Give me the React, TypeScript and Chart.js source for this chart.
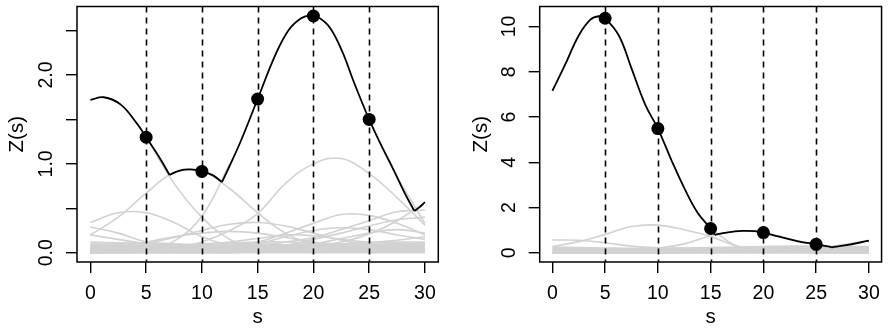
import { useEffect, useRef } from "react";
import { Chart, registerables } from "chart.js";

Chart.register(...registerables);

const FONT = "'Liberation Sans', Arial, Helvetica, sans-serif";
const FONT_SIZE = 19.5;
const TITLE_SIZE = 20.5;

// common s grid for the grey curves
const S_GRID = [0, 2.5, 5, 7.5, 10, 12.5, 15, 17.5, 20, 22.5, 25, 27.5, 30];
const X_TICKS = [0, 5, 10, 15, 20, 25, 30];
const V_LINES = [5, 10, 15, 20, 25];
const DOT_S = [5, 10, 15, 20, 25];

// ---------- left panel ----------
const L_Y_TICKS = [0, 0.5, 1, 1.5, 2, 2.5];
const L_Y_LABEL_VALUES = [0, 1, 2];
const L_Y_LABELS = ["0.0", "1.0", "2.0"];
const L_DOTS = [1.3, 0.915, 1.73, 2.665, 1.5];

const L_BLACK1_S = [0, 1.2, 2.7, 4.2, 5, 6.3, 7.1];
const L_BLACK1_Z = [1.72, 1.75, 1.67, 1.45, 1.3, 1.05, 0.875];
const L_BLACK2_S = [7.1, 8.0, 9.0, 10, 11, 11.8];
const L_BLACK2_Z = [0.875, 0.925, 0.937, 0.915, 0.87, 0.795];
const L_BLACK3_S = [11.8, 12.5, 13.5, 15, 16.6, 17.8, 18.9, 19.7, 20.5, 21.5, 22.6, 23.6, 25, 26.0, 27.2, 28.2, 29.05];
const L_BLACK3_Z = [0.795, 0.98, 1.26, 1.73, 2.23, 2.51, 2.64, 2.67, 2.645, 2.53, 2.26, 1.93, 1.5, 1.23, 0.93, 0.667, 0.47];
const L_BLACK4_S = [29.05, 29.5, 30];
const L_BLACK4_Z = [0.47, 0.51, 0.57];

// grey curves (null = hidden underneath the black envelope)
const gL1 = [null, null, 1.31, 0.78, 0.4, 0.15, 0.05, 0.02, 0.01, 0.01, 0.01, 0.01, 0.01];
const gL2 = [0.2, 0.4, 0.67, 0.9, 0.915, 0.72, 0.45, 0.22, 0.09, 0.04, 0.02, 0.01, 0.01];
const gL3 = [0.0, 0.01, 0.03, 0.13, 0.41, 1.0, null, null, null, null, null, 0.85, 0.33];
const gL4 = [0, 0, 0, 0, 0, 0, 0.01, 0.03, 0.06, 0.12, 0.21, 0.36, 0.57];
const gL5 = [0.0, 0.0, 0.01, 0.04, 0.12, 0.25, 0.44, 0.78, 1.0, 1.06, 0.89, 0.62, 0.31];
const gL6 = [0.34, 0.45, 0.45, 0.34, 0.18, 0.08, 0.04, 0.02, 0.01, 0.01, 0.01, 0.01, 0.01];
const gL7 = [0.01, 0.01, 0.02, 0.03, 0.05, 0.08, 0.12, 0.22, 0.33, 0.43, 0.42, 0.33, 0.2];
const gL8 = [0.02, 0.04, 0.1, 0.17, 0.25, 0.32, 0.34, 0.3, 0.22, 0.14, 0.08, 0.05, 0.03];
const gL9 = [0.01, 0.01, 0.01, 0.02, 0.03, 0.05, 0.08, 0.12, 0.17, 0.26, 0.36, 0.46, 0.48];
const gL10 = [0.02, 0.02, 0.02, 0.03, 0.04, 0.05, 0.06, 0.08, 0.15, 0.22, 0.3, 0.37, 0.4];
const gL11 = [0.2, 0.15, 0.1, 0.08, 0.07, 0.06, 0.05, 0.05, 0.05, 0.05, 0.05, 0.05, 0.05];
const gL12 = [0.29, 0.22, 0.12, 0.06, 0.04, 0.03, 0.03, 0.03, 0.03, 0.03, 0.03, 0.03, 0.03];
const gL13 = [0.03, 0.03, 0.04, 0.05, 0.06, 0.08, 0.1, 0.18, 0.25, 0.28, 0.26, 0.2, 0.15];
const gL14 = [0.02, 0.02, 0.03, 0.04, 0.05, 0.06, 0.07, 0.08, 0.1, 0.16, 0.22, 0.26, 0.22];
const gL15 = [0.05, 0.07, 0.12, 0.18, 0.22, 0.24, 0.22, 0.17, 0.12, 0.08, 0.06, 0.05, 0.05];
const gL16 = [0.04, 0.05, 0.06, 0.07, 0.09, 0.12, 0.16, 0.2, 0.19, 0.15, 0.12, 0.14, 0.18];
const bL1 = [0.12, 0.11, 0.1, 0.09, 0.1, 0.11, 0.12, 0.12, 0.11, 0.1, 0.11, 0.12, 0.12];
const bL2 = [0.1, 0.09, 0.08, 0.08, 0.09, 0.1, 0.1, 0.09, 0.09, 0.1, 0.11, 0.11, 0.1];
const bL3 = [0.08, 0.08, 0.07, 0.07, 0.07, 0.08, 0.09, 0.09, 0.08, 0.08, 0.09, 0.1, 0.09];
const bL4 = [0.07, 0.06, 0.06, 0.06, 0.06, 0.06, 0.07, 0.07, 0.07, 0.07, 0.08, 0.08, 0.08];
const bL5 = [0.05, 0.05, 0.05, 0.05, 0.05, 0.05, 0.05, 0.06, 0.06, 0.06, 0.06, 0.07, 0.07];
const bL6 = [0.04, 0.04, 0.04, 0.04, 0.04, 0.04, 0.04, 0.04, 0.05, 0.05, 0.05, 0.05, 0.05];
const bL7 = [0.03, 0.03, 0.03, 0.03, 0.03, 0.03, 0.03, 0.03, 0.03, 0.04, 0.04, 0.04, 0.04];
const bL8 = [0.02, 0.02, 0.02, 0.02, 0.02, 0.02, 0.02, 0.02, 0.02, 0.02, 0.03, 0.03, 0.03];
const bL9 = [0.01, 0.01, 0.01, 0.01, 0.01, 0.01, 0.01, 0.01, 0.01, 0.01, 0.01, 0.02, 0.02];
const bL10 = [0, 0, 0, 0, 0, 0, 0, 0, 0, 0, 0, 0, 0];
const bL11 = [0.09, 0.1, 0.11, 0.1, 0.08, 0.07, 0.08, 0.09, 0.1, 0.09, 0.08, 0.09, 0.11];
const bL12 = [0.06, 0.07, 0.08, 0.09, 0.08, 0.07, 0.06, 0.05, 0.06, 0.07, 0.08, 0.07, 0.06];

// ---------- right panel ----------
const R_Y_TICKS = [0, 2, 4, 6, 8, 10];
const R_Y_LABEL_VALUES = [0, 2, 4, 6, 8, 10];
const R_Y_LABELS = ["0", "2", "4", "6", "8", "10"];
const R_DOTS = [10.36, 5.49, 1.08, 0.9, 0.38];

const R_BLACK1_S = [0, 1.2, 2.5, 3.6, 4.4, 5, 6.3, 7.5, 8.8, 10, 11.3, 12.6, 13.8, 15, 15.4];
const R_BLACK1_Z = [7.16, 8.3, 9.6, 10.3, 10.45, 10.36, 9.6, 8.15, 6.55, 5.49, 4.08, 2.77, 1.75, 1.08, 0.8];
const R_BLACK2_S = [15.4, 16.5, 18.0, 19.2, 20, 21.4, 23.3, 25, 26.5];
const R_BLACK2_Z = [0.8, 0.9, 0.97, 0.96, 0.9, 0.73, 0.51, 0.38, 0.25];
const R_BLACK3_S = [26.5, 27.7, 30];
const R_BLACK3_Z = [0.25, 0.33, 0.54];

const gR1 = [null, null, null, null, null, null, 1.08, 0.3, 0.12, 0.05, 0.02, 0.01, 0.01];
const gR2 = [0.28, 0.5, 0.82, 1.17, 1.23, 1.02, 0.72, 0.3, 0.12, 0.05, 0.03, 0.02, 0.01];
const gR3 = [0.57, 0.56, 0.45, 0.3, 0.22, 0.18, 0.14, 0.12, 0.1, 0.1, 0.1, 0.1, 0.1];
const gR4 = [0.01, 0.03, 0.06, 0.12, 0.22, 0.4, 0.75, 0.96, 0.9, 0.62, 0.38, 0.2, 0.1];
const gR5 = [0, 0, 0, 0, 0, 0.01, 0.02, 0.04, 0.08, 0.12, 0.17, 0.36, 0.54];
const bR1 = [0.25, 0.24, 0.22, 0.2, 0.2, 0.22, 0.24, 0.26, 0.28, 0.3, 0.3, 0.29, 0.28];
const bR2 = [0.2, 0.2, 0.18, 0.17, 0.18, 0.2, 0.2, 0.22, 0.24, 0.25, 0.26, 0.25, 0.24];
const bR3 = [0.15, 0.15, 0.14, 0.14, 0.15, 0.15, 0.16, 0.17, 0.18, 0.19, 0.2, 0.2, 0.2];
const bR4 = [0.1, 0.1, 0.1, 0.1, 0.1, 0.11, 0.12, 0.12, 0.13, 0.14, 0.15, 0.15, 0.15];
const bR5 = [0.05, 0.05, 0.05, 0.05, 0.06, 0.06, 0.07, 0.07, 0.08, 0.08, 0.09, 0.1, 0.1];
const bR6 = [0.02, 0.02, 0.02, 0.02, 0.02, 0.03, 0.03, 0.03, 0.03, 0.04, 0.04, 0.04, 0.04];
const bR7 = [0, 0, 0, 0, 0, 0, 0, 0, 0, 0, 0, 0, 0];

type Panel = {
  left: number;
  width: number;
  yWidth: number;
  padRight: number;
  yMin: number;
  yMax: number;
  yTicks: number[];
  yLabelValues: number[];
  yLabels: string[];
  titlePadTop: number;
  grays: (number | null)[][];
  blacks: [number[], number[]][];
  dots: number[];
};

const PANELS: Panel[] = [
  {
    left: 0,
    width: 445,
    yWidth: 77,
    padRight: 1,
    yMin: -0.105,
    yMax: 2.772,
    yTicks: L_Y_TICKS,
    yLabelValues: L_Y_LABEL_VALUES,
    yLabels: L_Y_LABELS,
    titlePadTop: 5.5,
    grays: [gL1, gL2, gL3, gL4, gL5, gL6, gL7, gL8, gL9, gL10, gL11, gL12, gL13, gL14, gL15, gL16,
      bL1, bL2, bL3, bL4, bL5, bL6, bL7, bL8, bL9, bL10, bL11, bL12],
    blacks: [
      [L_BLACK1_S, L_BLACK1_Z],
      [L_BLACK2_S, L_BLACK2_Z],
      [L_BLACK3_S, L_BLACK3_Z],
      [L_BLACK4_S, L_BLACK4_Z],
    ],
    dots: L_DOTS,
  },
  {
    left: 445,
    width: 444,
    yWidth: 94.7,
    padRight: 7,
    yMin: -0.4,
    yMax: 10.88,
    yTicks: R_Y_TICKS,
    yLabelValues: R_Y_LABEL_VALUES,
    yLabels: R_Y_LABELS,
    titlePadTop: 24,
    grays: [gR1, gR2, gR3, gR4, gR5, bR1, bR2, bR3, bR4, bR5, bR6, bR7],
    blacks: [
      [R_BLACK1_S, R_BLACK1_Z],
      [R_BLACK2_S, R_BLACK2_Z],
      [R_BLACK3_S, R_BLACK3_Z],
    ],
    dots: R_DOTS,
  },
];

function buildChart(canvas: HTMLCanvasElement, p: Panel) {
  const datasets: any[] = [];
  datasets.push({
    data: DOT_S.map((s, i) => ({ x: s, y: p.dots[i] })),
    showLine: false,
    pointRadius: 6.5,
    pointBackgroundColor: "#000",
    pointBorderWidth: 0,
  });
  p.blacks.forEach(([xs, zs]) => {
    datasets.push({
      data: xs.map((s, i) => ({ x: s, y: zs[i] })),
      borderColor: "#000",
      borderWidth: 1.8,
      pointRadius: 0,
      tension: 0.4,
      fill: false,
    });
  });
  const lastBlackIndex = p.blacks.length;
  p.grays.forEach((zs) => {
    datasets.push({
      data: S_GRID.map((s, i) => ({ x: s, y: zs[i] })),
      borderColor: "#d2d2d2",
      borderWidth: 1.6,
      pointRadius: 0,
      tension: 0.4,
      spanGaps: false,
      fill: false,
    });
  });

  const decor = {
    id: "decor",
    beforeDatasetDraw(chart: any, args: any) {
      if (args.index !== lastBlackIndex) return;
      const { ctx, chartArea, scales } = chart;
      ctx.save();
      ctx.strokeStyle = "#000";
      ctx.lineWidth = 1.6;
      ctx.setLineDash([6, 5]);
      V_LINES.forEach((v) => {
        const x = Math.round(scales.x.getPixelForValue(v)) + 0.5;
        ctx.beginPath();
        ctx.moveTo(x, chartArea.top);
        ctx.lineTo(x, chartArea.bottom);
        ctx.stroke();
      });
      ctx.restore();
    },
    afterDraw(chart: any) {
      const { ctx, chartArea, scales } = chart;
      ctx.save();
      ctx.strokeStyle = "#000";
      ctx.lineWidth = 1.5;
      ctx.setLineDash([]);
      ctx.strokeRect(chartArea.left, chartArea.top, chartArea.right - chartArea.left, chartArea.bottom - chartArea.top);
      ctx.fillStyle = "#000";
      ctx.font = `${FONT_SIZE}px ${FONT}`;
      ctx.textAlign = "center";
      ctx.textBaseline = "alphabetic";
      const capH = FONT_SIZE * 0.716;
      const xc = chartArea.left - 31.5;
      p.yLabelValues.forEach((v, i) => {
        const y = scales.y.getPixelForValue(v);
        ctx.save();
        ctx.translate(xc + capH / 2, y);
        ctx.rotate(-Math.PI / 2);
        ctx.fillText(p.yLabels[i], 0, 0);
        ctx.restore();
      });
      ctx.restore();
    },
  };

  const gridOpts = {
    drawOnChartArea: false,
    drawTicks: true,
    tickLength: 11,
    color: "#000",
    lineWidth: 1.4,
  };

  return new Chart(canvas, {
    type: "line",
    data: { datasets },
    options: {
      animation: false,
      responsive: false,
      maintainAspectRatio: false,
      events: [],
      layout: { padding: { left: 0, right: p.padRight, top: 4.3, bottom: 0 } },
      plugins: { legend: { display: false }, tooltip: { enabled: false }, title: { display: false } },
      scales: {
        x: {
          type: "linear",
          min: -1.2,
          max: 31.2,
          afterBuildTicks: (s: any) => {
            s.ticks = X_TICKS.map((v) => ({ value: v }));
          },
          afterFit: (s: any) => {
            s.height = 72;
          },
          ticks: {
            autoSkip: false,
            maxRotation: 0,
            minRotation: 0,
            padding: 9,
            color: "#000",
            font: { family: FONT, size: FONT_SIZE },
            callback: (v: any) => String(v),
          },
          grid: gridOpts,
          border: { display: false },
          title: {
            display: true,
            text: "s",
            color: "#000",
            font: { family: FONT, size: TITLE_SIZE },
            padding: { top: 0, bottom: 4 },
          },
        },
        y: {
          type: "linear",
          min: p.yMin,
          max: p.yMax,
          afterBuildTicks: (s: any) => {
            s.ticks = p.yTicks.map((v) => ({ value: v }));
          },
          afterFit: (s: any) => {
            s.width = p.yWidth;
          },
          ticks: { display: false },
          grid: gridOpts,
          border: { display: false },
          title: {
            display: true,
            text: "Z(s)",
            color: "#000",
            font: { family: FONT, size: TITLE_SIZE },
            padding: { top: p.titlePadTop, bottom: 0 },
          },
        },
      },
    },
    plugins: [decor],
  } as any);
}

function PanelCanvas({ p }: { p: Panel }) {
  const ref = useRef<HTMLCanvasElement | null>(null);
  useEffect(() => {
    if (!ref.current) return;
    const chart = buildChart(ref.current, p);
    return () => chart.destroy();
  }, [p]);
  return (
    <canvas
      ref={ref}
      width={p.width}
      height={334}
      style={{ position: "absolute", left: p.left, top: 0, width: p.width, height: 334 }}
    />
  );
}

export default function App() {
  return (
    <div style={{ position: "absolute", left: 0, top: 0, width: 889, height: 334, background: "#fff" }}>
      {PANELS.map((p, i) => (
        <PanelCanvas key={i} p={p} />
      ))}
    </div>
  );
}
